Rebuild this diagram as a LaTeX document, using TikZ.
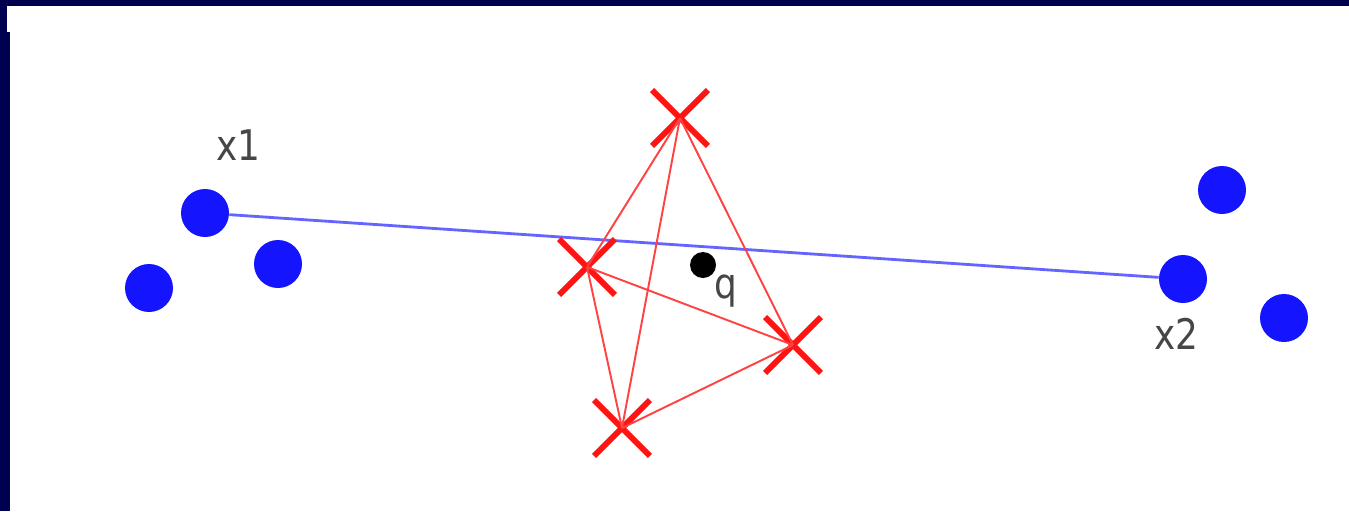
\documentclass[tikz,border=0pt]{standalone}
\usepackage{fontspec}
\newfontfamily\labfont[FakeStretch=0.85]{DejaVu Sans}
\usetikzlibrary{shapes.misc}
\definecolor{navy}{RGB}{0,0,80}
\definecolor{dotblue}{RGB}{20,20,255}
\definecolor{lineblue}{RGB}{100,100,255}
\definecolor{xred}{RGB}{255,20,20}
\definecolor{labgray}{RGB}{70,70,70}
\tikzset{
  pt/.style={circle, fill=dotblue, draw=none, minimum size=48*0.02cm, inner sep=0pt},
  xmark/.style={cross out, draw=xred, line width=3.3pt, minimum size=1cm, inner sep=0pt},
  edge/.style={draw=xred!80, line width=1.1pt},
  proj/.style={draw=lineblue, line width=1.6pt},
  lab/.style={anchor=base west, inner sep=0pt, text=labgray, font=\labfont\fontsize{24}{24}\selectfont},
  qdot/.style={circle, fill=black, minimum size=26*0.02cm, inner sep=0pt}
}
\begin{document}
\begin{tikzpicture}[x=0.02cm, y=-0.02cm]
\useasboundingbox (0,0) rectangle (1349,511);
\fill[white] (0,0) rectangle (1349,511);
\fill[navy] (0,0) rectangle (1349,6);
\fill[navy] (0,0) rectangle (7,32);
\fill[navy] (0,32) rectangle (10,511);
% blue points
\node[pt] (x1) at (205,213) {};
\node[pt] (b2) at (278,264) {};
\node[pt] (b3) at (149,288) {};
\node[pt] (b4) at (1222,190) {};
\node[pt] (x2) at (1183,279) {};
\node[pt] (b6) at (1284,318) {};
\draw[proj] (x1) -- (x2);
% red crosses
\node[xmark] (t) at (680,118) {};
\node[xmark] (l) at (587,267) {};
\node[xmark] (r) at (793,345) {};
\node[xmark] (b) at (622,428) {};
\draw[edge] (t.center) -- (l.center);
\draw[edge] (t.center) -- (b.center);
\draw[edge] (t.center) -- (r.center);
\draw[edge] (l.center) -- (r.center);
\draw[edge] (l.center) -- (b.center);
\draw[edge] (b.center) -- (r.center);
% query point
\node[qdot] (q) at (703,265) {};
\node[lab] (ql) at (714,298) {q};
\node[lab] (x1l) at (216,160) {x1};
\node[lab] (x2l) at (1154,349) {x2};
\end{tikzpicture}
\end{document}
